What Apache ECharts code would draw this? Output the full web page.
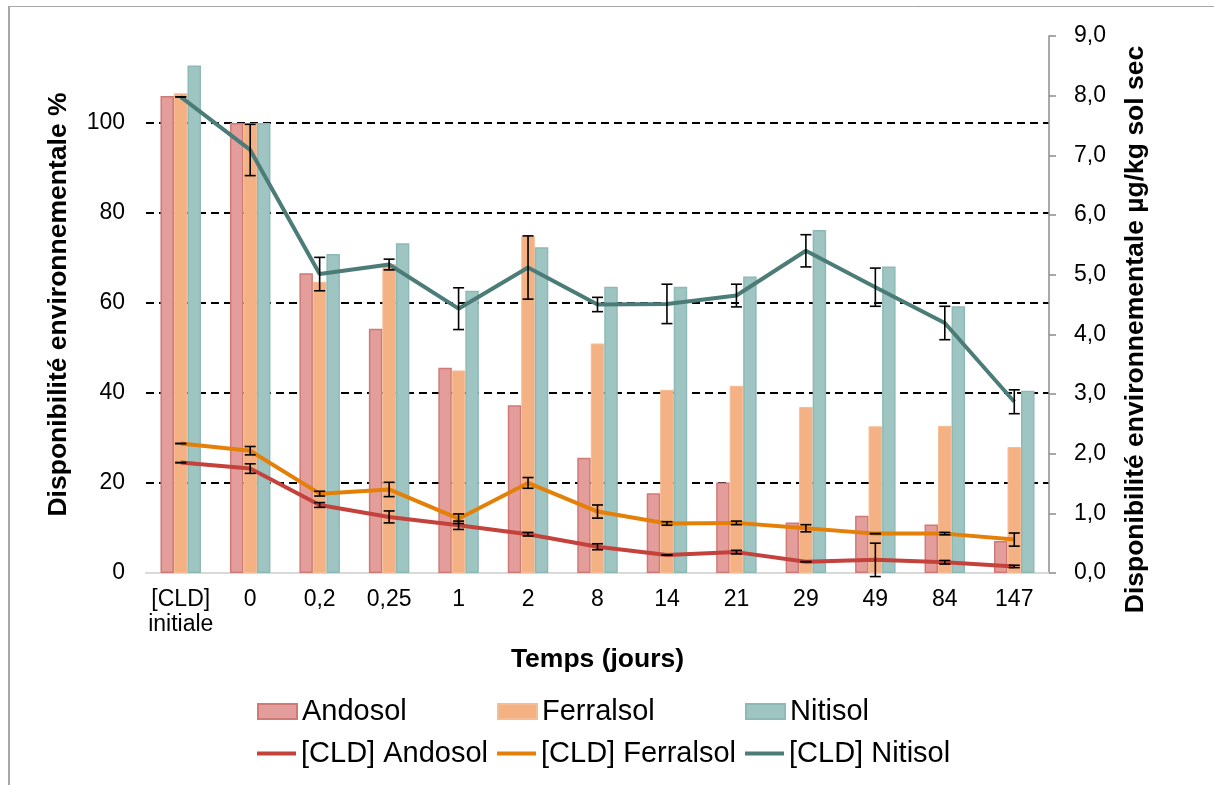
<!DOCTYPE html>
<html>
<head>
<meta charset="utf-8">
<script src="https://cdn.jsdelivr.net/npm/echarts@6/dist/echarts.min.js"></script>
<style>
  html, body { margin: 0; padding: 0; background: #fff; }
  #chart { width: 1214px; height: 785px; }
</style>
</head>
<body>
<div id="chart"></div>
<script>
// Categories (days)
var categories = ['[CLD]\ninitiale', '0', '0,2', '0,25', '1', '2', '8', '14', '21', '29', '49', '84', '147'];

// Bars: environmental availability, % (left axis)
var andosolPct   = [106.0, 100, 66.6, 54.3, 45.6, 37.3, 25.6, 17.7, 20.1, 11.2, 12.7, 10.8, 7.1];
var ferralsolPct = [106.6, 100, 64.7, 68.7, 45.0, 74.9, 51.0, 40.7, 41.6, 36.9, 32.6, 32.7, 28.0];
var nitisolPct   = [112.8, 100, 70.9, 73.3, 62.7, 72.4, 63.6, 63.6, 65.9, 76.2, 68.1, 59.3, 40.5];

// Lines: [CLD] in µg/kg dry soil (right axis)
var cldAndosol   = [1.85, 1.75, 1.14, 0.94, 0.80, 0.65, 0.44, 0.30, 0.35, 0.19, 0.22, 0.18, 0.11];
var cldFerralsol = [2.17, 2.05, 1.33, 1.40, 0.91, 1.51, 1.03, 0.83, 0.84, 0.75, 0.66, 0.66, 0.56];
var cldNitisol   = [7.98, 7.09, 5.01, 5.17, 4.43, 5.12, 4.50, 4.51, 4.65, 5.40, 4.79, 4.19, 2.87];

// Error bars (+/-) of the lines
var errAndosol   = [0, 0.08, 0.04, 0.10, 0.07, 0.03, 0.05, 0, 0.03, 0, 0.28, 0.03, 0.02];
var errFerralsol = [0, 0.07, 0.04, 0.12, 0.08, 0.09, 0.11, 0.03, 0.03, 0.06, 0, 0.02, 0.11];
var errNitisol   = [0, 0.43, 0.28, 0.09, 0.35, 0.53, 0.12, 0.33, 0.19, 0.27, 0.32, 0.28, 0.20];

var font = 'Liberation Sans, Arial, sans-serif';

// builds [index, low, high] rows for an error bar series
function errData(values, errs) {
  return values.map(function (v, i) {
    return [i, v - errs[i], v + errs[i]];
  });
}

function renderErr(params, api) {
  var i = api.value(0);
  var lo = api.coord([i, api.value(1)]);
  var hi = api.coord([i, api.value(2)]);
  var w = 5.5;
  var st = { stroke: '#000', lineWidth: 1.6 };
  return {
    type: 'group',
    children: [
      { type: 'line', shape: { x1: hi[0], y1: hi[1], x2: lo[0], y2: lo[1] }, style: st },
      { type: 'line', shape: { x1: hi[0] - w, y1: hi[1], x2: hi[0] + w, y2: hi[1] }, style: st },
      { type: 'line', shape: { x1: lo[0] - w, y1: lo[1], x2: lo[0] + w, y2: lo[1] }, style: st }
    ]
  };
}

function errSeries(name, values, errs) {
  return {
    name: name,
    type: 'custom',
    yAxisIndex: 1,
    renderItem: renderErr,
    encode: { x: 0, y: [1, 2] },
    data: errData(values, errs),
    z: 5,
    silent: true
  };
}

// one legend entry per component so the columns line up like the original
function legendItem(left, top, name, h) {
  return {
    left: left,
    top: top,
    padding: 0,
    itemWidth: 39,
    itemHeight: h,
    textStyle: { fontFamily: font, fontSize: 29, color: '#000' },
    data: [{ name: name, icon: 'rect' }]
  };
}

var chart = echarts.init(document.getElementById('chart'));

var option = {
  backgroundColor: '#fff',
  animation: false,
  textStyle: { fontFamily: font },
  grid: { left: 146, right: 165, top: 36, bottom: 212 },
  legend: [
    legendItem(257, 697, 'Andosol', 15),
    legendItem(497, 697, 'Ferralsol', 15),
    legendItem(745, 697, 'Nitisol', 15),
    legendItem(257, 739, '[CLD] Andosol', 4),
    legendItem(497, 739, '[CLD] Ferralsol', 4),
    legendItem(745, 739, '[CLD] Nitisol', 4)
  ],
  graphic: [
    { type: 'line', shape: { x1: 9, y1: 6, x2: 9, y2: 785 }, style: { stroke: '#A6A6A6', lineWidth: 2 } },
    { type: 'line', shape: { x1: 8, y1: 6.5, x2: 1214, y2: 6.5 }, style: { stroke: '#A6A6A6', lineWidth: 1 } }
  ],
  xAxis: {
    type: 'category',
    data: categories,
    name: 'Temps (jours)',
    nameLocation: 'middle',
    nameGap: 73,
    nameTextStyle: { fontFamily: font, fontSize: 26.5, fontWeight: 'bold', color: '#000' },
    axisLine: { lineStyle: { color: '#D9D9D9', width: 2 } },
    axisTick: { show: false },
    axisLabel: { interval: 0, fontSize: 23, lineHeight: 25, color: '#000', margin: 14 }
  },
  yAxis: [
    {
      type: 'value',
      min: 0,
      max: 119.33,
      interval: 20,
      name: 'Disponibilité environnementale %',
      nameLocation: 'middle',
      nameRotate: 90,
      nameGap: 74,
      nameTextStyle: { fontFamily: font, fontSize: 26.5, fontWeight: 'bold', color: '#000' },
      axisLine: { show: false },
      axisTick: { show: false },
      axisLabel: { fontSize: 23, color: '#000', margin: 21, showMaxLabel: false },
      splitLine: {
        show: true,
        showMinLine: false,
        showMaxLine: false,
        lineStyle: { color: '#000', width: 2, type: [8, 5] }
      }
    },
    {
      type: 'value',
      min: 0,
      max: 9,
      interval: 1,
      position: 'right',
      name: 'Disponibilité environnementale µg/kg sol sec',
      nameLocation: 'middle',
      nameRotate: 90,
      nameGap: 73,
      nameTextStyle: { fontFamily: font, fontSize: 26.5, fontWeight: 'bold', color: '#000', padding: [0, 50, 0, 0] },
      axisLine: { show: true, lineStyle: { color: '#8C8C8C', width: 1.5 } },
      axisTick: { show: true, length: 7, lineStyle: { color: '#8C8C8C', width: 1.5 } },
      axisLabel: {
        fontSize: 23, color: '#000', margin: 25,
        formatter: function (v) { return v.toFixed(1).replace('.', ','); }
      },
      splitLine: { show: false }
    }
  ],
  series: [
    {
      name: 'Andosol', type: 'bar', yAxisIndex: 0, barWidth: 13.5, barGap: '0%',
      itemStyle: { color: '#E39E9C', borderColor: '#D07A77', borderWidth: 1.5 },
      data: andosolPct
    },
    {
      name: 'Ferralsol', type: 'bar', yAxisIndex: 0, barWidth: 13.5, barGap: '0%',
      itemStyle: { color: '#F4B183', borderColor: '#F6BC94', borderWidth: 1 },
      data: ferralsolPct
    },
    {
      name: 'Nitisol', type: 'bar', yAxisIndex: 0, barWidth: 13.5, barGap: '0%',
      itemStyle: { color: '#9FC5C2', borderColor: '#8DBAB6', borderWidth: 1.5 },
      data: nitisolPct
    },
    {
      name: '[CLD] Andosol', type: 'line', yAxisIndex: 1, symbol: 'none', z: 4,
      lineStyle: { color: '#C3423B', width: 4 }, itemStyle: { color: '#C3423B' },
      data: cldAndosol
    },
    {
      name: '[CLD] Ferralsol', type: 'line', yAxisIndex: 1, symbol: 'none', z: 4,
      lineStyle: { color: '#E47F08', width: 4 }, itemStyle: { color: '#E47F08' },
      data: cldFerralsol
    },
    {
      name: '[CLD] Nitisol', type: 'line', yAxisIndex: 1, symbol: 'none', z: 4,
      lineStyle: { color: '#4C7C78', width: 4 }, itemStyle: { color: '#4C7C78' },
      data: cldNitisol
    },
    errSeries('err Andosol', cldAndosol, errAndosol),
    errSeries('err Ferralsol', cldFerralsol, errFerralsol),
    errSeries('err Nitisol', cldNitisol, errNitisol)
  ]
};

chart.setOption(option);
</script>
</body>
</html>
